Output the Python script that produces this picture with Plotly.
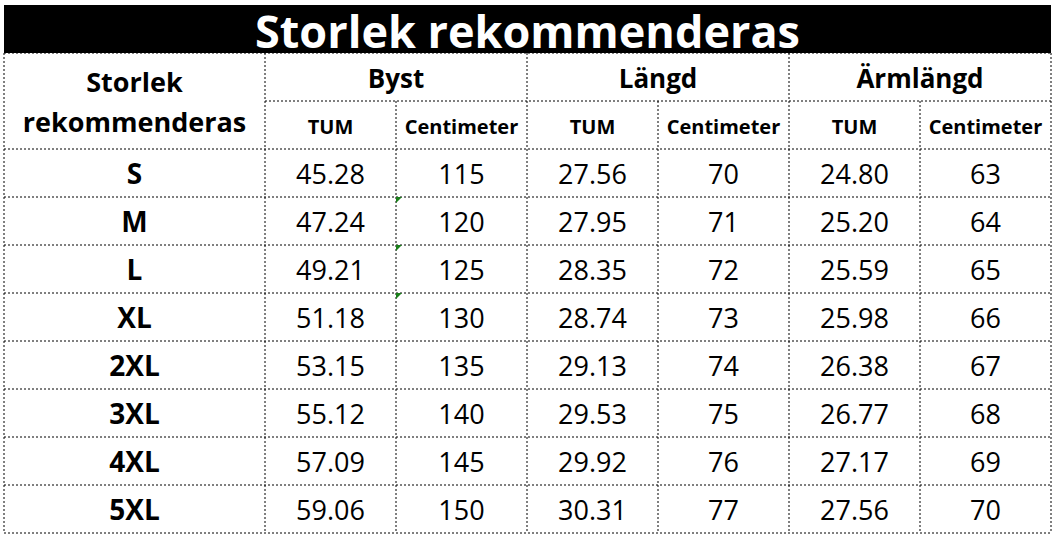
import plotly.graph_objects as go

title = "Storlek rekommenderas"
first_header = ["Storlek", "rekommenderas"]
groups = ["Byst", "Längd", "Ärmlängd"]
units = ["TUM", "Centimeter"]

sizes = ["S", "M", "L", "XL", "2XL", "3XL", "4XL", "5XL"]
bust_in = [45.28, 47.24, 49.21, 51.18, 53.15, 55.12, 57.09, 59.06]
bust_cm = [115, 120, 125, 130, 135, 140, 145, 150]
length_in = [27.56, 27.95, 28.35, 28.74, 29.13, 29.53, 29.92, 30.31]
length_cm = [70, 71, 72, 73, 74, 75, 76, 77]
sleeve_in = [24.80, 25.20, 25.59, 25.98, 26.38, 26.77, 27.17, 27.56]
sleeve_cm = [63, 64, 65, 66, 67, 68, 69, 70]

# cells flagged with excel's little green triangle (column index, row index)
flagged = [(2, 1), (2, 2), (2, 3)]

# grid layout in pixels
col_edges = [4, 265]
for i in range(6):
    col_edges.append(col_edges[-1] + 131)
col_edges[-1] = 1051
title_top, title_bottom = 5, 53
row_h = 48
row_edges = [title_bottom + i * row_h for i in range(len(sizes) + 3)]
nudge = 4  # text sits a little low in the cells

FONT = "Open Sans"
columns = [sizes,
           ["%.2f" % v for v in bust_in], [str(v) for v in bust_cm],
           ["%.2f" % v for v in length_in], [str(v) for v in length_cm],
           ["%.2f" % v for v in sleeve_in], [str(v) for v in sleeve_cm]]

def mid(a, b):
    return (a + b) / 2

fig = go.Figure()

# body values
for c, col in enumerate(columns):
    fig.add_trace(go.Scatter(
        x=[mid(col_edges[c], col_edges[c + 1])] * len(col),
        y=[mid(row_edges[r + 2], row_edges[r + 3]) + nudge for r in range(len(col))],
        text=col, mode="text", cliponaxis=False,
        textfont=dict(family=FONT, size=28 if c == 0 else 27, color="black",
                      weight="bold" if c == 0 else "normal"),
        hoverinfo="skip"))

# sub headers
sub_x, sub_t = [], []
for c in range(1, 7):
    sub_x.append(mid(col_edges[c], col_edges[c + 1]))
    sub_t.append(units[(c - 1) % 2])
fig.add_trace(go.Scatter(x=sub_x, y=[mid(row_edges[1], row_edges[2]) + nudge] * 6,
                         text=sub_t, mode="text", hoverinfo="skip", cliponaxis=False,
                         textfont=dict(family=FONT, size=20, color="black", weight="bold")))

# group headers
fig.add_trace(go.Scatter(
    x=[mid(col_edges[1 + 2 * g], col_edges[3 + 2 * g]) for g in range(3)],
    y=[mid(row_edges[0], row_edges[1]) + nudge] * 3,
    text=groups, mode="text", hoverinfo="skip", cliponaxis=False,
    textfont=dict(family=FONT, size=26, color="black", weight="bold")))

# first header is two lines spread over the two header rows
fig.add_trace(go.Scatter(
    x=[mid(col_edges[0], col_edges[1])] * 2,
    y=[mid(row_edges[0], row_edges[1]) + 2 * nudge, mid(row_edges[1], row_edges[2])],
    text=first_header, mode="text", hoverinfo="skip", cliponaxis=False,
    textfont=dict(family=FONT, size=27, color="black", weight="bold")))

# title bar
fig.add_shape(type="rect", x0=col_edges[0], x1=col_edges[-1], y0=title_top, y1=title_bottom,
              fillcolor="black", line=dict(width=0), layer="below")
fig.add_trace(go.Scatter(
    x=[mid(col_edges[0], col_edges[-1])], y=[mid(title_top, title_bottom) + 2 * nudge],
    text=[title], mode="text", hoverinfo="skip", cliponaxis=False,
    textfont=dict(family=FONT, size=45, color="white", weight="bold")))

# dotted grid
dot = dict(color="black", width=1, dash="2px,2px")
for i, y in enumerate(row_edges):
    x0 = col_edges[1] if i == 1 else col_edges[0]
    fig.add_shape(type="line", x0=x0, x1=col_edges[-1], y0=y, y1=y, line=dot)
for i, x in enumerate(col_edges):
    y0 = row_edges[1] if i in (2, 4, 6) else row_edges[0]
    fig.add_shape(type="line", x0=x, x1=x, y0=y0, y1=row_edges[-1], line=dot)

for c, r in flagged:
    x = col_edges[c]
    y = row_edges[r + 2]
    fig.add_shape(type="path", path=f"M {x} {y} L {x + 6} {y} L {x} {y + 6} Z",
                  fillcolor="#1a7f1a", line=dict(width=0))

fig.update_layout(
    width=1056, height=539, margin=dict(l=0, r=0, t=0, b=0),
    paper_bgcolor="white", plot_bgcolor="white", showlegend=False,
    xaxis=dict(range=[0, 1056], visible=False, fixedrange=True),
    yaxis=dict(range=[539, 0], visible=False, fixedrange=True),
)

# page body has a default margin, drop it so the table sits at the corner
fig.write_html("out.html", config={"displayModeBar": False},
               post_script="document.body.style.margin='0';")
